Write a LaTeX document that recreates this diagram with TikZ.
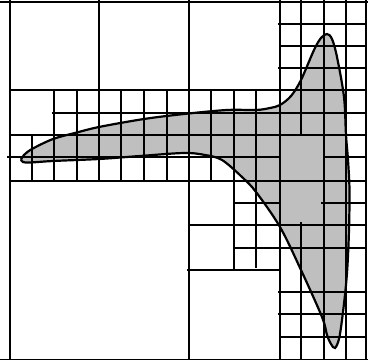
\documentclass[tikz,border=0pt]{standalone}
\tikzset{gridline/.style={line width=1.8pt,draw=black,line cap=butt},outline/.style={line width=2.2pt,black}}
\begin{document}
\begin{tikzpicture}[x=1pt,y=-1pt]
\useasboundingbox (0,0) rectangle (368,361);
\fill[white] (0,0) rectangle (368,361);
\def\shapepath{plot[smooth,tension=0.55] coordinates {(21,159.5)(24,155)(32,149)(53,139)(75,133)(99,127)(144,119)(184,114)(227,110)(256,110)(270,108)(280,105)(291,96)(301,80)(314,50)(321,38)(327,34)(332,39)(337,57)(344,97)(346,135)(348,160)(349.5,190)(349,230)(347.5,265)(345.5,290)(342,320)(339,339)(335,348)(331,344)(327,335)(322,317)(301,270)(280,227)(256,192)(242,177)(222,160)(205,155)(184,153)(140,156)(99,159)(53,161)(30,162.5)(23,162)(21,159.5)}}
\fill[black!25] \shapepath;
\foreach \px/\pa/\pb in {10.4/0/360,32.4/134/181,54.4/89/181,77.4/89/181,99.4/0/181,121.4/90/181,144.4/90/181,167.4/90/181,189.4/0/360,211.4/90/181,234.4/90/270,256.4/90/268,280.4/0/360,301.4/0/135,301.4/222/360,324.4/0/360,346.4/0/360,366.4/0/360}
  \draw[gridline] (\px,\pa) -- (\px,\pb);
\foreach \py/\pa/\pb in {2.4/0/368,24.4/278/366,46.4/280/366,68.4/278/366,90.4/10/366,113.4/52/366,135.4/10/366,157.4/7/280,157.4/324/366,181.4/10/366,203.4/233/280,203.4/321/366,225.4/189/366,248.4/234/366,270.4/187/280,292.4/278/366,314.4/278/366,337.4/280/366,359.5/0/368}
  \draw[gridline] (\pa,\py) -- (\pb,\py);
\draw[outline] \shapepath;
\end{tikzpicture}
\end{document}
